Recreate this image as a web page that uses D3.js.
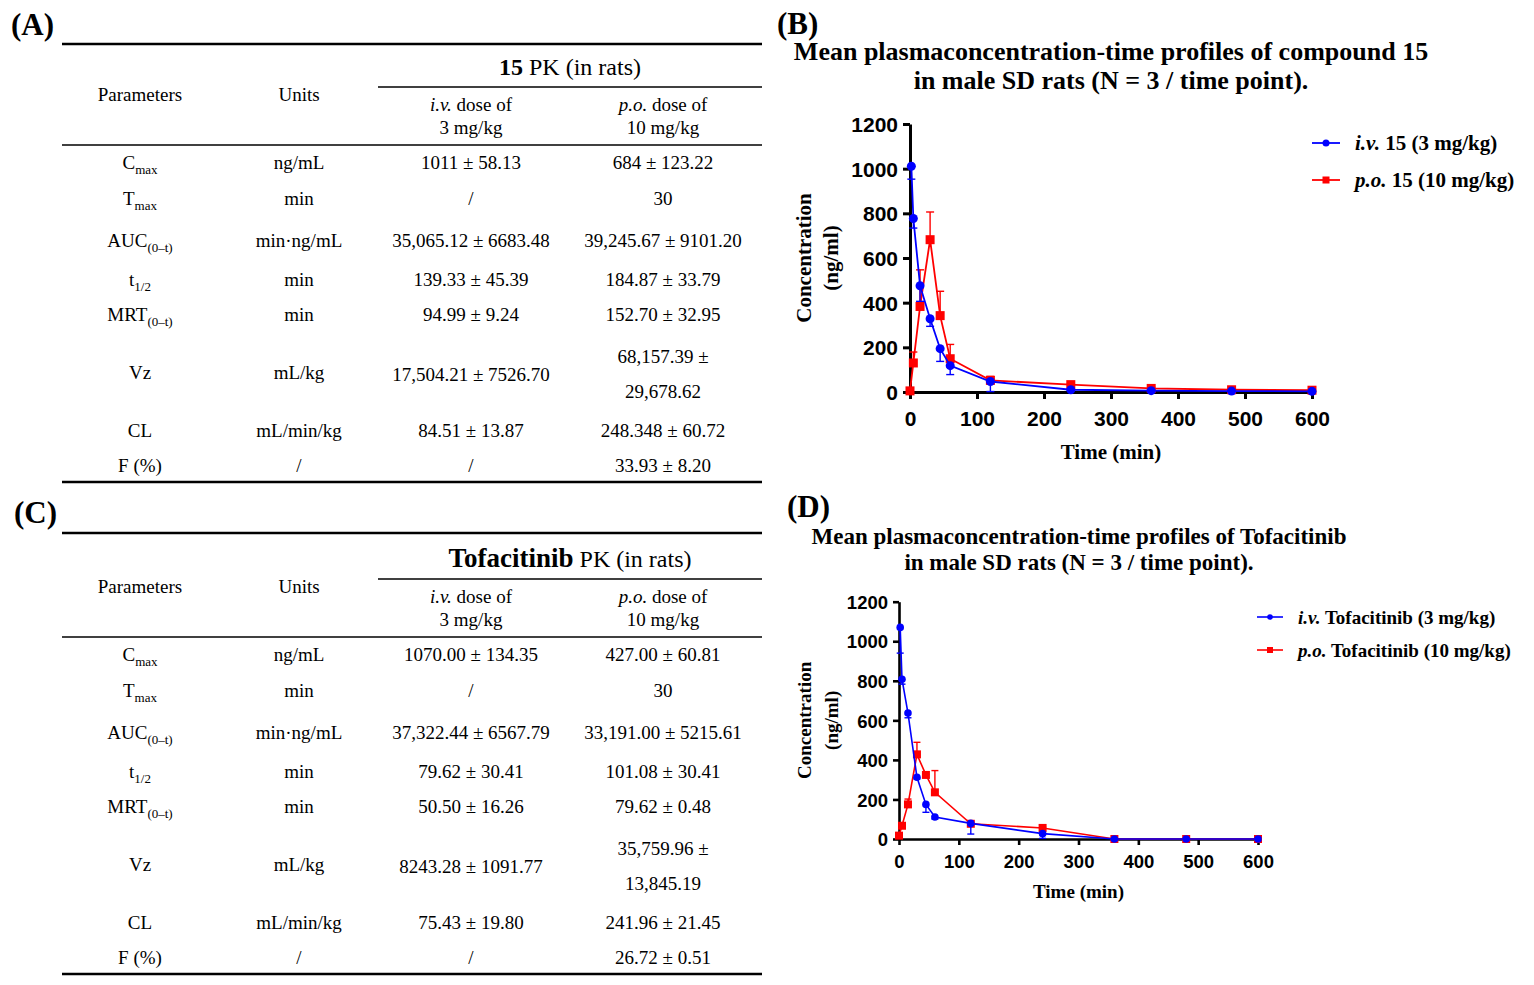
<!DOCTYPE html>
<html>
<head>
<meta charset="utf-8">
<script src="https://cdn.jsdelivr.net/npm/d3@7"></script>
<style>
  body { margin: 0; background: #fff; }
  svg { display: block; }
</style>
</head>
<body>
<div id="chart-area"></div>
<script>
// ---- table data ----
const paramNames = [["C", "max"], ["T", "max"], ["AUC", "(0–t)"], ["t", "1/2"], ["MRT", "(0–t)"], ["Vz", ""], ["CL", ""], ["F (%)", ""]];
const paramUnits = ["ng/mL", "min", "min·ng/mL", "min", "min", "mL/kg", "mL/min/kg", "/"];
const cmpIv = ["1011 ± 58.13", "/", "35,065.12 ± 6683.48", "139.33 ± 45.39", "94.99 ± 9.24", "17,504.21 ± 7526.70", "84.51 ± 13.87", "/"];
const cmpPo = ["684 ± 123.22", "30", "39,245.67 ± 9101.20", "184.87 ± 33.79", "152.70 ± 32.95", "68,157.39 ±|29,678.62", "248.348 ± 60.72", "33.93 ± 8.20"];
const tofIv = ["1070.00 ± 134.35", "/", "37,322.44 ± 6567.79", "79.62 ± 30.41", "50.50 ± 16.26", "8243.28 ± 1091.77", "75.43 ± 19.80", "/"];
const tofPo = ["427.00 ± 60.81", "30", "33,191.00 ± 5215.61", "101.08 ± 30.41", "79.62 ± 0.48", "35,759.96 ±|13,845.19", "241.96 ± 21.45", "26.72 ± 0.51"];

// ---- curve data (time in min, concentration in ng/ml) ----
const ivTimes = [2, 5, 15, 30, 45, 60, 120, 240, 360, 480, 600];
const poTimes = [0, 5, 15, 30, 45, 60, 120, 240, 360, 480, 600];
const cmpIvMean = [1011, 777, 476, 328, 194, 118, 47, 10, 6, 4, 3];
const cmpIvSd = [58, 43, 70, 34, 57, 40, 45, 3, 2, 1, 1];
const cmpPoMean = [5, 130, 383, 682, 342, 149, 52, 33, 16, 10, 8];
const cmpPoSd = [0, 49, 164, 124, 109, 64, 18, 6, 5, 3, 2];
const tofIvMean = [1070, 808, 637, 312, 175, 111, 79, 27, 0, 0, 0];
const tofIvSd = [130, 25, 24, 8, 40, 10, 54, 24, 0, 0, 0];
const tofPoMean = [17, 67, 175, 428, 324, 236, 77, 56, 0, 0, 0];
const tofPoSd = [0, 5, 27, 61, 4, 110, 5, 5, 0, 0, 0];
const xTicks = [0, 100, 200, 300, 400, 500, 600];
const yTicks = [0, 200, 400, 600, 800, 1000, 1200];

const SERIF = "'Liberation Serif', 'Times New Roman', serif";
const SANS = "'Liberation Sans', Arial, sans-serif";

let svg = d3.select("#chart-area")
    .append("svg")
    .attr("width", 1534)
    .attr("height", 985);

svg.append("rect").attr("width", 1534).attr("height", 985).attr("fill", "#fff");

// panel letters
[["(A)", 11, 35], ["(B)", 777, 34], ["(C)", 14, 523], ["(D)", 787, 517]].forEach(d => {
  svg.append("text")
    .attr("x", d[1]).attr("y", d[2])
    .attr("font-family", SERIF).attr("font-weight", "bold").attr("font-size", 31)
    .text(d[0]);
});

// ---------- tables ----------
function drawTable(top, shift, name, nameSize, ivVals, poVals) {
  let g = svg.append("g").attr("font-family", SERIF).attr("font-size", 19).attr("fill", "#000");
  let colX = [140, 299, 471, 663];
  let L = 62, R = 762;

  g.append("line").attr("x1", L).attr("x2", R).attr("y1", top).attr("y2", top)
    .attr("stroke", "#000").attr("stroke-width", 2.5);
  g.append("line").attr("x1", 378).attr("x2", R).attr("y1", top + 43 + shift).attr("y2", top + 43 + shift)
    .attr("stroke", "#000").attr("stroke-width", 1.5);
  g.append("line").attr("x1", L).attr("x2", R).attr("y1", top + 101 + shift).attr("y2", top + 101 + shift)
    .attr("stroke", "#000").attr("stroke-width", 1.5);
  g.append("line").attr("x1", L).attr("x2", R).attr("y1", top + 438 + shift).attr("y2", top + 438 + shift)
    .attr("stroke", "#000").attr("stroke-width", 2.5);

  let head = g.append("text").attr("x", 570).attr("y", top + 23 + shift + 8)
    .attr("text-anchor", "middle").attr("font-size", 24);
  head.append("tspan").attr("font-weight", "bold").attr("font-size", nameSize).text(name);
  head.append("tspan").text(" PK (in rats)");

  g.append("text").attr("x", colX[0]).attr("y", top + 51 + shift + 6).attr("text-anchor", "middle").text("Parameters");
  g.append("text").attr("x", colX[1]).attr("y", top + 51 + shift + 6).attr("text-anchor", "middle").text("Units");
  [["i.v.", "3 mg/kg", colX[2]], ["p.o.", "10 mg/kg", colX[3]]].forEach(h => {
    let t = g.append("text").attr("x", h[2]).attr("y", top + 61 + shift + 6).attr("text-anchor", "middle");
    t.append("tspan").attr("font-style", "italic").text(h[0]);
    t.append("tspan").text(" dose of");
    g.append("text").attr("x", h[2]).attr("y", top + 84 + shift + 6).attr("text-anchor", "middle").text(h[1]);
  });

  let rowY = [119, 155, 197, 236, 271, 329, 387, 422];
  paramNames.forEach((p, i) => {
    let y = top + rowY[i] + shift + 6;
    let t = g.append("text").attr("x", colX[0]).attr("y", y).attr("text-anchor", "middle");
    t.append("tspan").text(p[0]);
    if (p[1]) t.append("tspan").attr("font-size", 13).attr("dy", 5).text(p[1]);
    g.append("text").attr("x", colX[1]).attr("y", y).attr("text-anchor", "middle").text(paramUnits[i]);
    g.append("text").attr("x", colX[2]).attr("y", y + (i === 5 ? 2 : 0)).attr("text-anchor", "middle").text(ivVals[i]);
    let parts = poVals[i].split("|");
    if (parts.length > 1) {
      g.append("text").attr("x", colX[3]).attr("y", y - 16).attr("text-anchor", "middle").text(parts[0]);
      g.append("text").attr("x", colX[3]).attr("y", y + 19).attr("text-anchor", "middle").text(parts[1]);
    } else {
      g.append("text").attr("x", colX[3]).attr("y", y).attr("text-anchor", "middle").text(parts[0]);
    }
  });
}

drawTable(44, 0, "15", 24, cmpIv, cmpPo);
drawTable(533, 3, "Tofacitinib", 27, tofIv, tofPo);

// ---------- charts ----------
function drawChart(c) {
  let x = d3.scaleLinear().domain([0, 600]).range([c.left, c.right]);
  let y = d3.scaleLinear().domain([0, 1200]).range([c.bottom, c.top]);
  let g = svg.append("g");

  // title
  c.title.forEach((t, i) => {
    g.append("text").attr("x", c.titleX).attr("y", c.titleY + i * c.titleGap)
      .attr("text-anchor", "middle").attr("font-family", SERIF).attr("font-weight", "bold")
      .attr("font-size", c.titleSize).text(t);
  });

  // axes
  let yAxis = g.append("g").attr("transform", `translate(${c.left},0)`)
    .call(d3.axisLeft(y).tickValues(yTicks).tickFormat(d3.format("d")).tickSize(c.tick).tickPadding(5).tickSizeOuter(0));
  let xAxis = g.append("g").attr("transform", `translate(0,${c.bottom})`)
    .call(d3.axisBottom(x).tickValues(xTicks).tickFormat(d3.format("d")).tickSize(c.tick).tickPadding(c.xPad).tickSizeOuter(0));
  [xAxis, yAxis].forEach(a => {
    a.select(".domain").attr("stroke", "#000").attr("stroke-width", c.axisW);
    a.selectAll(".tick line").attr("stroke", "#000").attr("stroke-width", c.axisW);
    a.selectAll("text").attr("font-family", SANS).attr("font-weight", "bold")
      .attr("font-size", c.tickSize).attr("fill", "#000");
  });
  yAxis.selectAll("text").attr("dy", "0.36em");

  // axis titles
  ["Concentration", "(ng/ml)"].forEach((t, i) => {
    g.append("text")
      .attr("transform", `translate(${c.yTitleX + i * 27},${(c.top + c.bottom) / 2}) rotate(-90)`)
      .attr("text-anchor", "middle").attr("dominant-baseline", "central")
      .attr("font-family", SERIF).attr("font-weight", "bold").attr("font-size", c.axTitleSize)
      .text(t);
  });
  g.append("text").attr("x", (c.left + c.right) / 2).attr("y", c.xTitleY)
    .attr("text-anchor", "middle").attr("font-family", SERIF).attr("font-weight", "bold")
    .attr("font-size", c.axTitleSize).text("Time (min)");

  let line = d3.line().x(d => x(d[0])).y(d => y(d[1]));
  let series = [
    { t: poTimes, m: c.poMean, sd: c.poSd, col: "#ff0000", dir: -1, shape: "sq" },
    { t: ivTimes, m: c.ivMean, sd: c.ivSd, col: "#0000ff", dir: 1, shape: "ci" }
  ];
  series.forEach(s => {
    let pts = s.t.map((t, i) => [t, s.m[i], s.sd[i]]);
    let sg = g.append("g");
    // error bars
    pts.filter(p => p[2] > 0).forEach(p => {
      let y0 = y(p[1]), y1 = y(p[1] + (s.dir < 0 ? p[2] : -p[2]));
      sg.append("line").attr("x1", x(p[0])).attr("x2", x(p[0])).attr("y1", y0).attr("y2", y1)
        .attr("stroke", s.col).attr("stroke-width", 1.4);
      sg.append("line").attr("x1", x(p[0]) - c.cap).attr("x2", x(p[0]) + c.cap).attr("y1", y1).attr("y2", y1)
        .attr("stroke", s.col).attr("stroke-width", 1.4);
    });
    sg.append("path").datum(pts).attr("d", line).attr("fill", "none")
      .attr("stroke", s.col).attr("stroke-width", c.lineW);
    if (s.shape === "ci") {
      sg.selectAll("circle").data(pts).join("circle")
        .attr("cx", d => x(d[0])).attr("cy", d => y(d[1])).attr("r", c.dot).attr("fill", s.col);
    } else {
      sg.selectAll("rect").data(pts).join("rect")
        .attr("x", d => x(d[0]) - c.sq / 2).attr("y", d => y(d[1]) - c.sq / 2)
        .attr("width", c.sq).attr("height", c.sq).attr("fill", s.col);
    }
  });

  // legend
  c.legend.forEach((l, i) => {
    let ly = c.legY + i * c.legGap;
    let col = i === 0 ? "#0000ff" : "#ff0000";
    g.append("line").attr("x1", c.legX).attr("x2", c.legX + c.legLen).attr("y1", ly).attr("y2", ly)
      .attr("stroke", col).attr("stroke-width", c.lineW);
    if (i === 0) {
      g.append("circle").attr("cx", c.legX + c.legLen / 2).attr("cy", ly).attr("r", c.dot - 1).attr("fill", col);
    } else {
      g.append("rect").attr("x", c.legX + c.legLen / 2 - c.sq / 2 + 1).attr("y", ly - c.sq / 2 + 1)
        .attr("width", c.sq - 2).attr("height", c.sq - 2).attr("fill", col);
    }
    let t = g.append("text").attr("x", c.legX + c.legLen + 15).attr("y", ly).attr("dominant-baseline", "central")
      .attr("font-family", SERIF).attr("font-weight", "bold").attr("font-size", c.legSize);
    t.append("tspan").attr("font-style", "italic").text(l[0]);
    t.append("tspan").text(" " + l[1]);
  });
}

drawChart({
  left: 910, right: 1312, top: 124, bottom: 392,
  title: ["Mean plasmaconcentration-time profiles of compound 15", "in male SD rats (N = 3 / time point)."],
  titleX: 1111, titleY: 60, titleGap: 29, titleSize: 26,
  tick: 7, axisW: 3, tickSize: 21, xPad: 12, axTitleSize: 21,
  yTitleX: 804, xTitleY: 459,
  lineW: 1.8, dot: 4.5, sq: 9, cap: 4,
  ivMean: cmpIvMean, ivSd: cmpIvSd, poMean: cmpPoMean, poSd: cmpPoSd,
  legend: [["i.v.", "15 (3 mg/kg)"], ["p.o.", "15 (10 mg/kg)"]],
  legX: 1312, legLen: 28, legY: 143, legGap: 37, legSize: 21
});

drawChart({
  left: 899, right: 1258, top: 601.7, bottom: 839,
  title: ["Mean plasmaconcentration-time profiles of Tofacitinib", "in male SD rats (N = 3 / time point)."],
  titleX: 1079, titleY: 544, titleGap: 26, titleSize: 23,
  tick: 6, axisW: 2.6, tickSize: 18.5, xPad: 10, axTitleSize: 19,
  yTitleX: 804, xTitleY: 898,
  lineW: 1.6, dot: 3.8, sq: 8, cap: 3.5,
  ivMean: tofIvMean, ivSd: tofIvSd, poMean: tofPoMean, poSd: tofPoSd,
  legend: [["i.v.", "Tofacitinib (3 mg/kg)"], ["p.o.", "Tofacitinib (10 mg/kg)"]],
  legX: 1257, legLen: 26, legY: 617, legGap: 33, legSize: 19
});
</script>
</body>
</html>
